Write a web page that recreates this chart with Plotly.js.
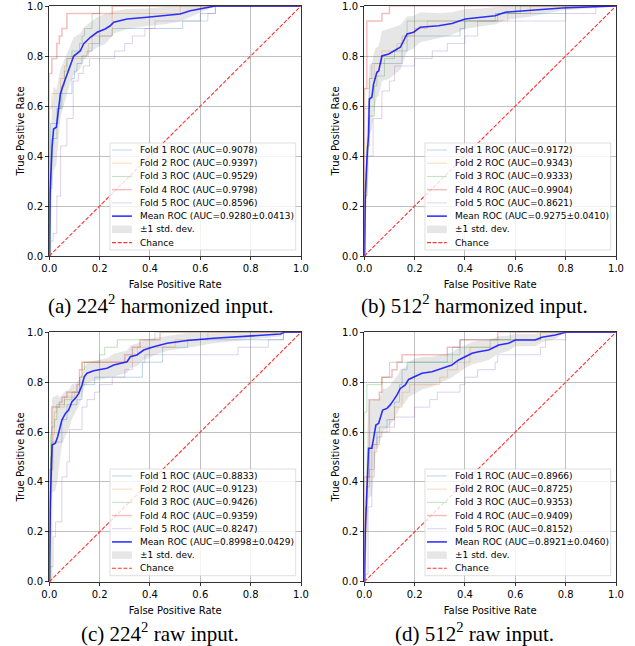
<!DOCTYPE html>
<html><head><meta charset="utf-8">
<script src="https://cdn.plot.ly/plotly-3.0.1.min.js"></script>
<style>html,body{margin:0;padding:0;background:#fff;}#chart{width:635px;height:646px;}</style>
</head><body><div id="chart"></div>
<script>
// ---------- data ----------
const tickValues = [0, 0.2, 0.4, 0.6, 0.8, 1.0];
const tickLabels = ["0.0", "0.2", "0.4", "0.6", "0.8", "1.0"];
const chanceX = [0, 1];
const chanceY = [0, 1];
const captions = ["(a) 224<sup>2</sup> harmonized input.", "(b) 512<sup>2</sup> harmonized input.",
                  "(c) 224<sup>2</sup> raw input.", "(d) 512<sup>2</sup> raw input."];

// (a) 224^2 harmonized
const aFold1Fpr = [0, 0.005, 0.03, 0.045, 0.09, 0.1, 0.11, 0.13, 0.15, 0.17, 0.2, 0.25, 0.53, 0.6, 0.66, 1];
const aFold1Tpr = [0, 0.53, 0.59, 0.65, 0.71, 0.74, 0.77, 0.8, 0.82, 0.85, 0.88, 0.91, 0.94, 0.97, 1, 1];
const aFold2Fpr = [0, 0, 0.01, 0.045, 0.06, 0.07, 0.155, 0.17, 0.25, 0.52, 1];
const aFold2Tpr = [0, 0.59, 0.65, 0.71, 0.76, 0.79, 0.85, 0.88, 0.97, 1, 1];
const aFold3Fpr = [0, 0.005, 0.01, 0.03, 0.035, 0.05, 0.06, 0.07, 0.09, 0.12, 0.13, 0.14, 0.17, 0.2, 1];
const aFold3Tpr = [0, 0.27, 0.47, 0.53, 0.59, 0.68, 0.74, 0.79, 0.82, 0.85, 0.88, 0.91, 0.97, 1, 1];
const aFold4Fpr = [0, 0, 0.01, 0.03, 0.04, 0.05, 0.07, 0.25, 1];
const aFold4Tpr = [0, 0.73, 0.79, 0.85, 0.88, 0.91, 0.97, 1, 1];
const aFold5Fpr = [0, 0.005, 0.015, 0.03, 0.045, 0.07, 0.095, 0.115, 0.135, 0.16, 0.26, 0.3, 0.33, 0.38, 0.42, 0.63, 0.66, 1];
const aFold5Tpr = [0, 0.06, 0.09, 0.24, 0.44, 0.55, 0.7, 0.73, 0.76, 0.79, 0.82, 0.85, 0.88, 0.91, 0.94, 0.97, 1, 1];
const aMeanFpr = [0, 0.003, 0.011, 0.017, 0.028, 0.037, 0.044, 0.054, 0.073, 0.083, 0.097, 0.123, 0.136, 0.163, 0.19, 0.222, 0.242, 0.256, 0.309, 0.388, 0.454, 0.52, 0.56, 0.626, 0.66, 1];
const aMeanTpr = [0, 0.25, 0.435, 0.508, 0.515, 0.588, 0.648, 0.68, 0.735, 0.768, 0.8, 0.82, 0.848, 0.875, 0.895, 0.908, 0.921, 0.935, 0.948, 0.955, 0.961, 0.968, 0.981, 0.995, 1, 1];
const aStd = [0, 0.15, 0.17, 0.17, 0.15, 0.12, 0.1, 0.09, 0.08, 0.075, 0.075, 0.07, 0.065, 0.06, 0.06, 0.06, 0.05, 0.045, 0.04, 0.035, 0.035, 0.03, 0.025, 0.01, 0, 0];
const aAuc = [0.9078, 0.9397, 0.9529, 0.9798, 0.8596];
const aMeanAuc = "0.9280±0.0413";

// (b) 512^2 harmonized
const bFold1Fpr = [0, 0, 0.02, 0.03, 0.15, 0.17, 0.38, 0.4, 0.53, 0.8, 1];
const bFold1Tpr = [0, 0.59, 0.71, 0.77, 0.82, 0.88, 0.91, 0.94, 0.97, 1, 1];
const bFold2Fpr = [0, 0, 0.02, 0.04, 0.07, 0.13, 0.16, 0.2, 0.25, 0.57, 0.66, 1];
const bFold2Tpr = [0, 0.67, 0.71, 0.77, 0.82, 0.85, 0.88, 0.91, 0.94, 0.97, 1, 1];
const bFold3Fpr = [0, 0.005, 0.01, 0.02, 0.04, 0.05, 0.08, 0.12, 0.15, 0.17, 0.52, 0.62, 1];
const bFold3Tpr = [0, 0.24, 0.44, 0.56, 0.68, 0.72, 0.79, 0.82, 0.88, 0.94, 0.97, 1, 1];
const bFold4Fpr = [0, 0, 0.01, 0.07, 0.1, 1];
const bFold4Tpr = [0, 0.67, 0.94, 0.97, 1, 1];
const bFold5Fpr = [0, 0.005, 0.01, 0.035, 0.07, 0.1, 0.12, 0.2, 0.27, 0.33, 0.4, 0.45, 0.8, 0.92, 1];
const bFold5Tpr = [0, 0.24, 0.4, 0.55, 0.66, 0.7, 0.76, 0.79, 0.82, 0.85, 0.88, 0.94, 0.97, 1, 1];
const bMeanFpr = [0, 0.004, 0.011, 0.017, 0.02, 0.03, 0.037, 0.044, 0.05, 0.057, 0.07, 0.097, 0.117, 0.143, 0.156, 0.17, 0.196, 0.222, 0.295, 0.348, 0.401, 0.468, 0.52, 0.56, 0.653, 0.785, 0.918, 1];
const bMeanTpr = [0, 0.248, 0.395, 0.488, 0.628, 0.635, 0.688, 0.72, 0.735, 0.74, 0.8, 0.808, 0.82, 0.835, 0.861, 0.888, 0.895, 0.915, 0.921, 0.93, 0.948, 0.955, 0.961, 0.975, 0.981, 0.992, 0.997, 1];
const bStd = [0, 0.12, 0.15, 0.15, 0.14, 0.13, 0.12, 0.11, 0.1, 0.1, 0.1, 0.1, 0.095, 0.09, 0.08, 0.07, 0.065, 0.06, 0.05, 0.045, 0.04, 0.035, 0.035, 0.03, 0.025, 0.01, 0.005, 0];
const bAuc = [0.9172, 0.9343, 0.9333, 0.9904, 0.8621];
const bMeanAuc = "0.9275±0.0410";

// (c) 224^2 raw
const cFold1Fpr = [0, 0.005, 0.01, 0.05, 0.07, 0.11, 0.13, 0.18, 0.37, 0.45, 0.55, 0.93, 1];
const cFold1Tpr = [0, 0.5, 0.56, 0.65, 0.71, 0.73, 0.79, 0.82, 0.88, 0.94, 0.97, 1, 1];
const cFold2Fpr = [0, 0.01, 0.015, 0.02, 0.03, 0.06, 0.1, 0.12, 0.13, 0.33, 0.35, 0.5, 0.63, 1];
const cFold2Tpr = [0, 0.45, 0.59, 0.68, 0.7, 0.74, 0.76, 0.82, 0.88, 0.91, 0.94, 0.97, 1, 1];
const cFold3Fpr = [0, 0.005, 0.01, 0.02, 0.03, 0.06, 0.09, 0.12, 0.13, 0.14, 0.2, 0.22, 0.27, 0.42, 1];
const cFold3Tpr = [0, 0.59, 0.62, 0.65, 0.71, 0.73, 0.76, 0.82, 0.85, 0.88, 0.91, 0.94, 0.97, 1, 1];
const cFold4Fpr = [0, 0, 0.01, 0.04, 0.05, 0.07, 0.11, 0.12, 0.13, 0.3, 0.33, 0.36, 0.44, 1];
const cFold4Tpr = [0, 0.45, 0.7, 0.72, 0.74, 0.76, 0.79, 0.85, 0.88, 0.91, 0.94, 0.97, 1, 1];
const cFold5Fpr = [0, 0.005, 0.015, 0.025, 0.05, 0.07, 0.08, 0.13, 0.15, 0.18, 0.2, 0.25, 0.3, 0.33, 0.38, 0.75, 0.87, 0.93, 1];
const cFold5Tpr = [0, 0.06, 0.18, 0.24, 0.42, 0.48, 0.61, 0.7, 0.73, 0.76, 0.79, 0.82, 0.85, 0.88, 0.91, 0.94, 0.97, 1, 1];
const cMeanFpr = [0, 0.004, 0.011, 0.024, 0.033, 0.041, 0.05, 0.064, 0.077, 0.09, 0.103, 0.117, 0.13, 0.139, 0.15, 0.176, 0.229, 0.256, 0.309, 0.322, 0.348, 0.375, 0.415, 0.468, 0.547, 0.653, 0.785, 0.918, 0.934, 1];
const cMeanTpr = [0, 0.314, 0.548, 0.555, 0.58, 0.608, 0.648, 0.675, 0.688, 0.722, 0.735, 0.755, 0.789, 0.822, 0.836, 0.846, 0.856, 0.869, 0.882, 0.902, 0.909, 0.929, 0.942, 0.956, 0.967, 0.976, 0.985, 0.993, 1, 1];
const cStd = [0, 0.15, 0.19, 0.19, 0.17, 0.13, 0.1, 0.09, 0.08, 0.07, 0.06, 0.05, 0.045, 0.04, 0.04, 0.04, 0.04, 0.045, 0.045, 0.045, 0.045, 0.04, 0.035, 0.03, 0.03, 0.02, 0.015, 0.01, 0, 0];
const cAuc = [0.8833, 0.9123, 0.9426, 0.9359, 0.8247];
const cMeanAuc = "0.8998±0.0429";

// (d) 512^2 raw
const dFold1Fpr = [0, 0.005, 0.01, 0.02, 0.03, 0.05, 0.06, 0.09, 0.12, 0.14, 0.15, 0.17, 0.33, 0.35, 0.38, 0.58, 1];
const dFold1Tpr = [0, 0.3, 0.38, 0.45, 0.55, 0.6, 0.62, 0.65, 0.72, 0.79, 0.85, 0.88, 0.91, 0.94, 0.97, 1, 1];
const dFold2Fpr = [0, 0.005, 0.01, 0.03, 0.04, 0.06, 0.1, 0.12, 0.15, 0.18, 0.3, 0.33, 0.37, 0.42, 0.53, 0.7, 1];
const dFold2Tpr = [0, 0.2, 0.42, 0.45, 0.55, 0.6, 0.65, 0.7, 0.76, 0.79, 0.82, 0.85, 0.88, 0.94, 0.97, 1, 1];
const dFold3Fpr = [0, 0, 0.01, 0.07, 0.1, 0.35, 0.38, 0.5, 0.7, 1];
const dFold3Tpr = [0, 0.68, 0.79, 0.82, 0.88, 0.91, 0.94, 0.97, 1, 1];
const dFold4Fpr = [0, 0, 0.02, 0.06, 0.07, 0.11, 0.13, 0.15, 0.33, 0.38, 0.53, 1];
const dFold4Tpr = [0, 0.42, 0.73, 0.76, 0.82, 0.85, 0.88, 0.91, 0.94, 0.97, 1, 1];
const dFold5Fpr = [0, 0.005, 0.015, 0.03, 0.04, 0.05, 0.07, 0.09, 0.12, 0.2, 0.26, 0.29, 0.38, 0.4, 0.45, 0.52, 0.53, 0.7, 0.72, 0.8, 1];
const dFold5Tpr = [0, 0.03, 0.3, 0.42, 0.52, 0.58, 0.6, 0.62, 0.66, 0.7, 0.73, 0.76, 0.79, 0.82, 0.85, 0.88, 0.91, 0.94, 0.97, 1, 1];
const dMeanFpr = [0, 0.004, 0.011, 0.017, 0.03, 0.037, 0.046, 0.057, 0.064, 0.073, 0.09, 0.103, 0.117, 0.13, 0.143, 0.163, 0.176, 0.203, 0.229, 0.269, 0.309, 0.348, 0.375, 0.401, 0.428, 0.454, 0.494, 0.534, 0.573, 0.6, 0.679, 0.706, 0.759, 0.801, 1];
const dMeanTpr = [0, 0.207, 0.381, 0.535, 0.535, 0.582, 0.628, 0.635, 0.655, 0.688, 0.695, 0.709, 0.729, 0.749, 0.775, 0.789, 0.811, 0.825, 0.836, 0.842, 0.856, 0.869, 0.889, 0.902, 0.916, 0.922, 0.929, 0.949, 0.956, 0.969, 0.969, 0.98, 0.989, 1, 1];
const dStd = [0, 0.15, 0.2, 0.2, 0.19, 0.15, 0.1, 0.095, 0.09, 0.085, 0.08, 0.08, 0.08, 0.075, 0.075, 0.07, 0.07, 0.07, 0.065, 0.06, 0.055, 0.05, 0.05, 0.045, 0.045, 0.045, 0.04, 0.035, 0.03, 0.025, 0.025, 0.02, 0.015, 0, 0];
const dAuc = [0.8966, 0.8725, 0.9353, 0.9409, 0.8152];
const dMeanAuc = "0.8921±0.0460";

// ---------- build ----------
const FONT = "DejaVu Sans, Arial, sans-serif";
const foldColors = ["rgba(31,119,180,0.3)", "rgba(255,127,14,0.3)", "rgba(44,160,44,0.3)", "rgba(214,39,40,0.3)", "rgba(148,103,189,0.3)"];
const foldWidths = [1, 1, 1, 1.5, 1];
const meanColor = "rgba(0,0,255,0.8)";
const bandColor = "rgba(128,128,128,0.2)";
const chanceColor = "#ff3333";
const chanceDash = "4px,1.7px";

const panels = [
  {folds: [[aFold1Fpr, aFold1Tpr], [aFold2Fpr, aFold2Tpr], [aFold3Fpr, aFold3Tpr], [aFold4Fpr, aFold4Tpr], [aFold5Fpr, aFold5Tpr]], mf: aMeanFpr, mt: aMeanTpr, sd: aStd, auc: aAuc, mauc: aMeanAuc},
  {folds: [[bFold1Fpr, bFold1Tpr], [bFold2Fpr, bFold2Tpr], [bFold3Fpr, bFold3Tpr], [bFold4Fpr, bFold4Tpr], [bFold5Fpr, bFold5Tpr]], mf: bMeanFpr, mt: bMeanTpr, sd: bStd, auc: bAuc, mauc: bMeanAuc},
  {folds: [[cFold1Fpr, cFold1Tpr], [cFold2Fpr, cFold2Tpr], [cFold3Fpr, cFold3Tpr], [cFold4Fpr, cFold4Tpr], [cFold5Fpr, cFold5Tpr]], mf: cMeanFpr, mt: cMeanTpr, sd: cStd, auc: cAuc, mauc: cMeanAuc},
  {folds: [[dFold1Fpr, dFold1Tpr], [dFold2Fpr, dFold2Tpr], [dFold3Fpr, dFold3Tpr], [dFold4Fpr, dFold4Tpr], [dFold5Fpr, dFold5Tpr]], mf: dMeanFpr, mt: dMeanTpr, sd: dStd, auc: dAuc, mauc: dMeanAuc}
];

const W = 635, H = 646;
const xDoms = [[49.3 / W, 301 / W], [364.3 / W, 616 / W]];
const yDoms = [[1 - 256 / H, 1 - 6 / H], [1 - 581.7 / H, 1 - 332.3 / H]];
const captionPos = [[160 / W, 1 - 304 / H], [474 / W, 1 - 304 / H], [160 / W, 1 - 632 / H], [474 / W, 1 - 632 / H]];

const data = [];
const layout = {
  width: W, height: H, margin: {l: 0, r: 0, t: 0, b: 0},
  paper_bgcolor: "#fff", plot_bgcolor: "#fff", showlegend: false,
  font: {family: FONT, size: 10, color: "#000"},
  shapes: [], annotations: []
};

function axis(domain, anchor, title, isX) {
  return {
    domain: domain, anchor: anchor, range: [0, 1], fixedrange: true, automargin: false,
    tickmode: "array", tickvals: tickValues, ticktext: tickLabels,
    ticks: "outside", ticklen: 3.5, tickwidth: 0.8, tickcolor: "#000",
    showline: true, linecolor: "#000", linewidth: 0.8, mirror: true,
    showgrid: true, gridcolor: "#b0b0b0", gridwidth: 0.8, zeroline: false,
    tickfont: {family: FONT, size: 10, color: "#000"},
    title: {text: title, font: {family: FONT, size: 10, color: "#000"}, standoff: isX ? 7 : 0}
  };
}

panels.forEach((p, i) => {
  const s = i === 0 ? "" : String(i + 1);
  const xa = "x" + s, ya = "y" + s;
  const col = i % 2, row = Math.floor(i / 2);
  layout["xaxis" + s] = axis(xDoms[col], ya, "False Positive Rate", true);
  layout["yaxis" + s] = axis(yDoms[row], xa, "True Positive Rate", false);

  p.folds.forEach((f, k) => {
    data.push({x: f[0], y: f[1], xaxis: xa, yaxis: ya, mode: "lines", hoverinfo: "skip",
      line: {shape: "hv", color: foldColors[k], width: foldWidths[k]}});
  });
  const lower = p.mt.map((m, j) => Math.max(m - p.sd[j], 0));
  const upper = p.mt.map((m, j) => Math.min(m + p.sd[j], 1));
  data.push({x: p.mf, y: lower, xaxis: xa, yaxis: ya, mode: "lines", hoverinfo: "skip", line: {width: 0, color: bandColor}});
  data.push({x: p.mf, y: upper, xaxis: xa, yaxis: ya, mode: "lines", hoverinfo: "skip", fill: "tonexty", fillcolor: bandColor, line: {width: 0, color: bandColor}});
  data.push({x: p.mf, y: p.mt, xaxis: xa, yaxis: ya, mode: "lines", hoverinfo: "skip", line: {color: meanColor, width: 1.6}});
  data.push({x: chanceX, y: chanceY, xaxis: xa, yaxis: ya, mode: "lines", hoverinfo: "skip", line: {color: chanceColor, width: 1.1, dash: chanceDash}});

  // legend (drawn inside the axes, matplotlib style)
  const xr = xa + " domain", yr = ya + " domain";
  layout.shapes.push({type: "rect", xref: xr, yref: yr, x0: 0.241, x1: 0.979, y0: 0.024, y1: 0.452,
    fillcolor: "rgba(255,255,255,0.8)", line: {color: "rgba(204,204,204,0.8)", width: 0.8}, layer: "above"});
  const labels = p.auc.map((a, k) => "Fold " + (k + 1) + " ROC (AUC=" + a.toFixed(4) + ")");
  labels.push("Mean ROC (AUC=" + p.mauc + ")");
  labels.push("±1 std. dev.");
  labels.push("Chance");
  const rowY = labels.map((_, k) => 0.424 - k * 0.0529);
  const hx0 = 0.249, hx1 = 0.328, tx = 0.353;
  labels.forEach((t, k) => {
    const yy = rowY[k];
    if (k < 5) {
      layout.shapes.push({type: "line", xref: xr, yref: yr, x0: hx0, x1: hx1, y0: yy, y1: yy, line: {color: foldColors[k], width: foldWidths[k]}, layer: "above"});
    } else if (k === 5) {
      layout.shapes.push({type: "line", xref: xr, yref: yr, x0: hx0, x1: hx1, y0: yy, y1: yy, line: {color: meanColor, width: 1.6}, layer: "above"});
    } else if (k === 6) {
      layout.shapes.push({type: "rect", xref: xr, yref: yr, x0: hx0, x1: hx1, y0: yy - 0.015, y1: yy + 0.015, fillcolor: bandColor, line: {width: 0}, layer: "above"});
    } else {
      layout.shapes.push({type: "line", xref: xr, yref: yr, x0: hx0, x1: hx1, y0: yy, y1: yy, line: {color: chanceColor, width: 1.1, dash: chanceDash}, layer: "above"});
    }
    layout.annotations.push({xref: xr, yref: yr, x: tx, y: yy, xanchor: "left", yanchor: "middle", showarrow: false,
      text: t, font: {family: FONT, size: 9, color: "#000"}});
  });

  layout.annotations.push({xref: "paper", yref: "paper", x: captionPos[i][0], y: captionPos[i][1], xanchor: "center", yanchor: "middle",
    showarrow: false, text: captions[i], font: {family: "Liberation Serif, Times New Roman, serif", size: 21, color: "#000"}});
});

Plotly.newPlot("chart", data, layout, {staticPlot: true, displayModeBar: false});
</script></body></html>
